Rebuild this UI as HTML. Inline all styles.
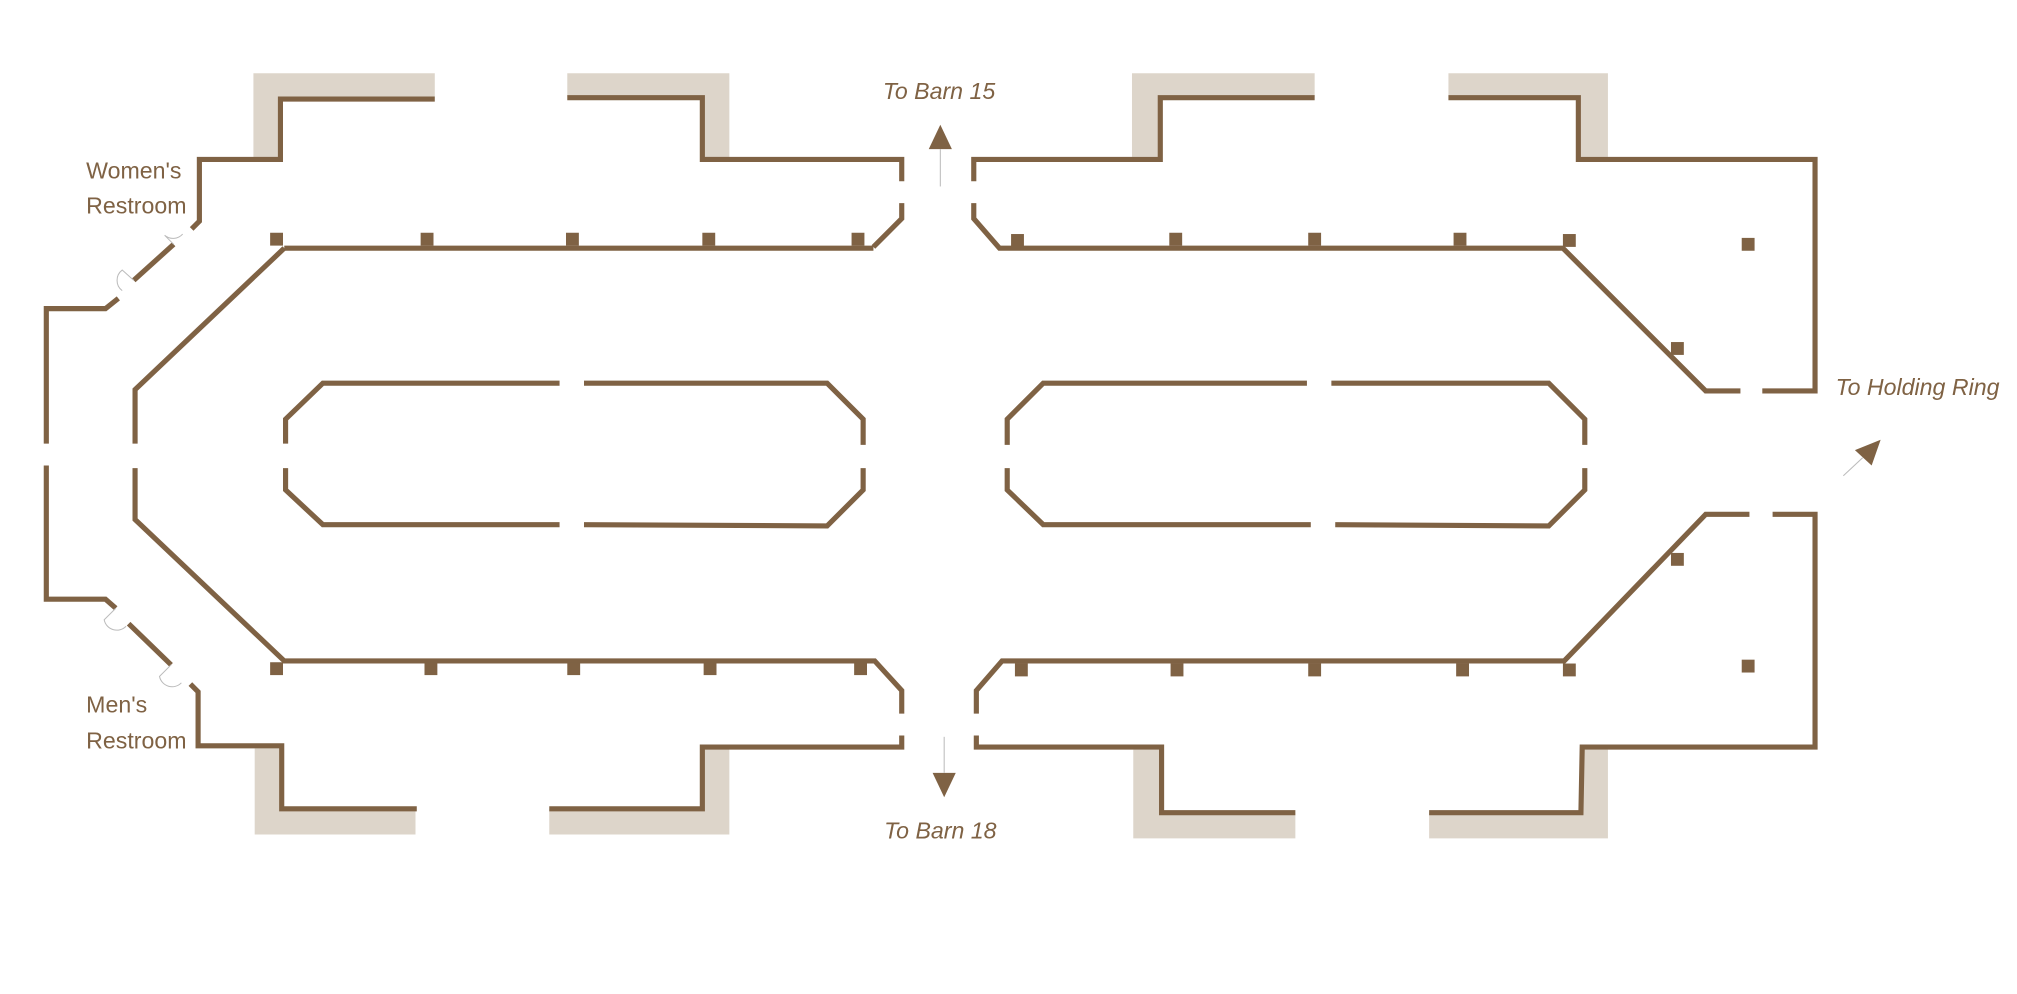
<!DOCTYPE html>
<html><head><meta charset="utf-8"><style>
html,body{margin:0;padding:0;background:#fff;}
svg{display:block;}
text{font-family:"Liberation Sans",sans-serif;fill:#7f6244;}
</style></head><body>
<svg width="2017" height="994" viewBox="0 0 1568 773" preserveAspectRatio="none" xmlns="http://www.w3.org/2000/svg">
<g fill="#ddd5ca">
<path d="M197,57H338V75H216V124H197Z"/>
<path d="M441,57H567V124H546V75H441Z"/>
<path d="M198,582H219V629H323V649H198Z"/>
<path d="M427,629H546V582H567V649H427Z"/>
<path d="M880,57H1022V75H902V122H880Z"/>
<path d="M1126,57H1250V122H1229V75H1126Z"/>
<path d="M881,583H903V632H1007V652H881Z"/>
<path d="M1111,632H1229V583H1250V652H1111Z"/>
</g>
<g fill="none" stroke="#7f6244" stroke-width="4" stroke-linejoin="miter">
<polyline points="149,178 155,172 155,124 218,124 218,77 338,77"/>
<polyline points="135,190 104,218"/>
<polyline points="92,232 82,240 36,240 36,345"/>
<polyline points="36,362 36,466 82,466 90,473"/>
<polyline points="100,485 133,517"/>
<polyline points="148,532 154,538 154,580 219,580 219,629 324,629"/>
<polyline points="441,76 546,76 546,124 701,124 701,141"/>
<polyline points="701,158 701,170 679,192"/>
<polyline points="221,193 679,193"/>
<polyline points="221,193 105,303 105,345"/>
<polyline points="105,364 105,404 221,514 680,514 701,537 701,555"/>
<polyline points="701,572 701,581 546,581 546,629 427,629"/>
<polyline points="435,298 251,298 222,326 222,345"/>
<polyline points="222,364 222,381 251,408 435,408"/>
<polyline points="454,298 643,298 671,326 671,346"/>
<polyline points="671,364 671,381 643,409 454,408"/>
<polyline points="757,141 757,124 902,124 902,76 1022,76"/>
<polyline points="1126,76 1227,76 1227,124 1411,124 1411,304 1370,304"/>
<polyline points="757,158 757,170 777,193 1215,193 1326,304 1353,304"/>
<polyline points="759,555 759,537 779,514 1216,514 1326,400 1360,400"/>
<polyline points="1378,400 1411,400 1411,581 1230,581 1229,632 1111,632"/>
<polyline points="759,572 759,581 903,581 903,632 1007,632"/>
<polyline points="1016,298 811,298 783,326 783,346"/>
<polyline points="783,364 783,381 811,408 1019,408"/>
<polyline points="1035,298 1204,298 1232,326 1232,346"/>
<polyline points="1232,364 1232,381 1204,409 1038,408"/>
</g>
<g fill="#7f6244">
<rect x="210" y="181" width="10" height="10"/><rect x="327" y="181" width="10" height="10"/><rect x="440" y="181" width="10" height="10"/><rect x="546" y="181" width="10" height="10"/><rect x="662" y="181" width="10" height="10"/>
<rect x="210" y="515" width="10" height="10"/><rect x="330" y="515" width="10" height="10"/><rect x="441" y="515" width="10" height="10"/><rect x="547" y="515" width="10" height="10"/><rect x="664" y="515" width="10" height="10"/>
<rect x="786" y="182" width="10" height="10"/><rect x="909" y="181" width="10" height="10"/><rect x="1017" y="181" width="10" height="10"/><rect x="1130" y="181" width="10" height="10"/><rect x="1215" y="182" width="10" height="10"/>
<rect x="789" y="516" width="10" height="10"/><rect x="910" y="516" width="10" height="10"/><rect x="1017" y="516" width="10" height="10"/><rect x="1132" y="516" width="10" height="10"/><rect x="1215" y="516" width="10" height="10"/>
<rect x="1354" y="185" width="10" height="10"/><rect x="1299" y="266" width="10" height="10"/><rect x="1299" y="430" width="10" height="10"/><rect x="1354" y="513" width="10" height="10"/>
<polygon points="731,97 722,116 740,116"/>
<polygon points="734,620 725,601 743,601"/>
<polygon points="1462,342 1442,350 1455,362"/>
</g>
<g fill="none" stroke="#bbb" stroke-width="0.8">
<line x1="731" y1="116" x2="731" y2="145"/>
<line x1="734" y1="573" x2="734" y2="601"/>
<line x1="1433" y1="370" x2="1448" y2="356"/>
<path d="M135,190 L128,183 A10,10 0 0,0 142,182"/>
<path d="M104,218 L95,210 A10,10 0 0,0 95,226"/>
<path d="M90,473 L81,482 A10,10 0 0,0 98,487"/>
<path d="M133,517 L124,526 A10,10 0 0,0 141,531"/>
</g>
<g font-size="18">
<text x="67" y="139">Women's</text>
<text x="67" y="166">Restroom</text>
<text x="67" y="554">Men's</text>
<text x="67" y="582">Restroom</text>
</g>
<g font-size="18" font-style="italic">
<text x="730" y="77" text-anchor="middle">To Barn 15</text>
<text x="731" y="652" text-anchor="middle">To Barn 18</text>
<text x="1427" y="307">To Holding Ring</text>
</g>
</svg>
</body></html>
